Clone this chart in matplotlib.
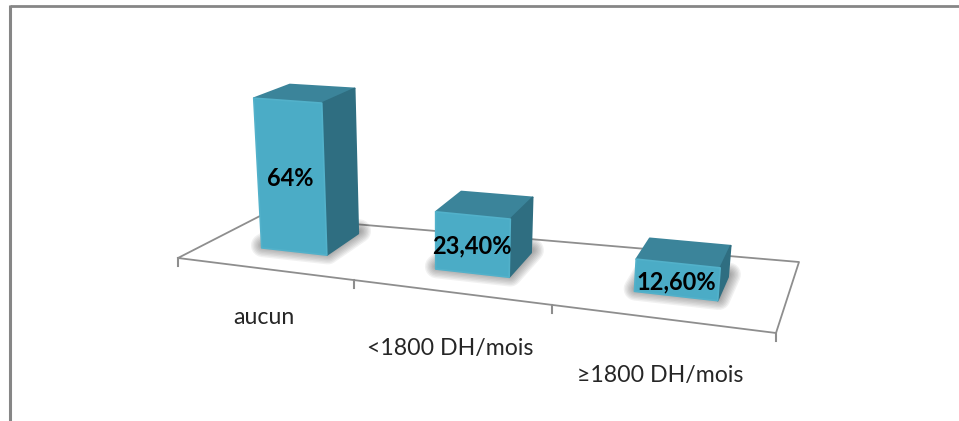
import matplotlib
matplotlib.use("Agg")
import matplotlib.pyplot as plt
from matplotlib.patches import Polygon
import numpy as np

plt.rcParams["font.family"] = ["Lato", "DejaVu Sans"]

# Chart data
categories = ["aucun", "<1800 DH/mois", "\u22651800 DH/mois"]
values = [64.0, 23.4, 12.6]
value_labels = ["64%", "23,40%", "12,60%"]

# Colours
FRONT = "#4BACC6"
FRONT_EDGE = "#52B1CA"
TOP = "#3B849A"
SIDE = "#2F6E81"
AXIS = "#8E8E8E"
BORDER = "#868686"

# Floor of the 3D scene, in figure pixels
FRONT_L, FRONT_R = np.array([178.0, 258.0]), np.array([776.0, 333.0])
BACK_L, BACK_R = np.array([260.0, 216.0]), np.array([799.0, 262.0])
BAR_WIDTH = 0.128
BAR_SHIFT = 0.005
BAR_DEPTH = [(0.38, 0.83), (0.35, 0.78), (0.35, 0.70)]
LABEL_DROP = [49, 56, 57]


def perspective(u):
    """Foreshortening along the category axis."""
    return 5 * u / (6 - u)


def project(u, depth, value=0.0):
    """Map axis position, depth and value height to figure pixels."""
    s = perspective(u)
    front = FRONT_L + (FRONT_R - FRONT_L) * s
    back = BACK_L + (BACK_R - BACK_L) * s
    x, y = front + (back - front) * depth
    scale = 2.35 + (y - 250) * 0.005
    lean = (x - 438) * 0.00071
    return np.array([x + lean * value, y - scale * value])


fig = plt.figure(figsize=(9.59, 4.21), dpi=100)
ax = fig.add_axes([0, 0, 1, 1])
ax.set_xlim(0, 959)
ax.set_ylim(421, 0)
ax.axis("off")

# Outer frame: only the top and left edges are visible
ax.plot([9.5, 959], [6.3, 6.3], color=BORDER, lw=2.0, solid_capstyle="butt")
ax.plot([9.5, 9.5], [5.3, 421], color=BORDER, lw=2.2, solid_capstyle="butt")

# Floor outline and axis ticks
floor = np.array([project(0, 0), project(1, 0), project(1, 1), project(0, 1), project(0, 0)])
ax.plot(floor[:, 0], floor[:, 1], color=AXIS, lw=1.3, solid_joinstyle="round", zorder=1)
for i in range(len(categories) + 1):
    p = project(i / len(categories), 0)
    ax.plot([p[0], p[0]], [p[1], p[1] + 8], color=AXIS, lw=1.5, zorder=1)

# Bars, each with a soft shadow on the floor
for i, (value, text, name) in enumerate(zip(values, value_labels, categories)):
    centre = (i + 0.5) / len(categories) + BAR_SHIFT
    u0, u1 = centre - BAR_WIDTH / 2, centre + BAR_WIDTH / 2
    d0, d1 = BAR_DEPTH[i]

    base = [project(u0, d0), project(u1, d0), project(u1, d1), project(u0, d1)]
    top = [project(u0, d0, value), project(u1, d0, value), project(u1, d1, value), project(u0, d1, value)]

    shadow = [p + np.array([1.0, -2.5]) for p in base]
    for width in np.arange(17, 1, -2.0):
        ax.add_patch(Polygon(shadow, closed=True, fc="#404040", ec="#404040", lw=width,
                             alpha=0.07, joinstyle="round", zorder=2))

    ax.add_patch(Polygon(top, closed=True, fc=TOP, ec=TOP, lw=1.2, joinstyle="round", zorder=3))
    ax.add_patch(Polygon([base[1], base[2], top[2], top[1]], closed=True, fc=SIDE, ec=SIDE,
                         lw=1.2, joinstyle="round", zorder=3))
    ax.add_patch(Polygon([base[0], base[1], top[1], top[0]], closed=True, fc=FRONT, ec=FRONT_EDGE,
                         lw=1.2, joinstyle="round", zorder=4))

    face_centre = np.mean([base[0], base[1], top[1], top[0]], axis=0)
    ax.text(face_centre[0] - 1, face_centre[1] + 2, text, ha="center", va="center",
            fontsize=17, fontweight="bold", color="black", zorder=5)

    anchor = project((i + 0.5) / len(categories), 0)
    ax.text(anchor[0], anchor[1] + LABEL_DROP[i], name, ha="center", va="center",
            fontsize=16.7, color="#262626", zorder=5)

fig.savefig("out.png", dpi=100)
